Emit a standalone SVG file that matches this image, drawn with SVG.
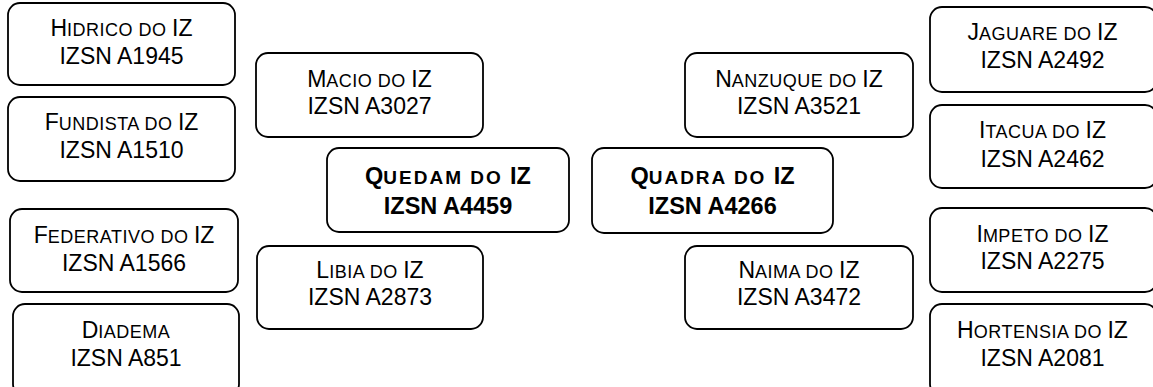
<svg xmlns="http://www.w3.org/2000/svg" width="1153" height="387" viewBox="0 0 1153 387">
<style>
.box{fill:#fff;stroke:#000;stroke-width:1.8}
.t{font-family:"Liberation Sans",Arial,sans-serif;font-size:23px;fill:#000;text-anchor:middle}
.b{font-weight:bold;font-size:23.5px}
.sc{font-size:18px;letter-spacing:0.5px}
.b .sc{font-size:19px;letter-spacing:2px}
</style>
<rect width="1153" height="387" fill="#fff"/>
<g id="connectors"></g>
<g id="hidrico"><rect class="box" x="8" y="3" width="227" height="82" rx="12"/><text class="t" x="121.5" y="36">H<tspan class="sc">IDRICO DO </tspan>IZ</text><text class="t" x="121.5" y="64">IZSN A1945</text></g>
<g id="fundista"><rect class="box" x="8" y="97" width="227" height="84" rx="12"/><text class="t" x="121.5" y="130">F<tspan class="sc">UNDISTA DO </tspan>IZ</text><text class="t" x="121.5" y="158">IZSN A1510</text></g>
<g id="federativo"><rect class="box" x="10" y="209" width="228" height="83" rx="12"/><text class="t" x="124" y="243">F<tspan class="sc">EDERATIVO DO </tspan>IZ</text><text class="t" x="124" y="271">IZSN A1566</text></g>
<g id="diadema"><rect class="box" x="13" y="304" width="226" height="92" rx="12"/><text class="t" x="126" y="338">D<tspan class="sc">IADEMA</tspan></text><text class="t" x="126" y="366">IZSN A851</text></g>
<g id="macio"><rect class="box" x="256" y="53" width="227" height="84" rx="12"/><text class="t" x="369.5" y="87">M<tspan class="sc">ACIO DO </tspan>IZ</text><text class="t" x="369.5" y="114">IZSN A3027</text></g>
<g id="quedam"><rect class="box" x="327" y="148" width="242" height="84" rx="12"/><text class="t b" x="448" y="184">Q<tspan class="sc">UEDAM DO </tspan>IZ</text><text class="t b" x="448" y="214">IZSN A4459</text></g>
<g id="libia"><rect class="box" x="257" y="246" width="226" height="83" rx="12"/><text class="t" x="370" y="278">L<tspan class="sc">IBIA DO </tspan>IZ</text><text class="t" x="370" y="305">IZSN A2873</text></g>
<g id="nanzuque"><rect class="box" x="685" y="53" width="228" height="84" rx="12"/><text class="t" x="799" y="87">N<tspan class="sc">ANZUQUE DO </tspan>IZ</text><text class="t" x="799" y="114">IZSN A3521</text></g>
<g id="quadra"><rect class="box" x="592" y="148" width="241" height="85" rx="12"/><text class="t b" x="712.5" y="184">Q<tspan class="sc">UADRA DO </tspan>IZ</text><text class="t b" x="712.5" y="214">IZSN A4266</text></g>
<g id="naima"><rect class="box" x="685" y="246" width="228" height="83" rx="12"/><text class="t" x="799" y="278">N<tspan class="sc">AIMA DO </tspan>IZ</text><text class="t" x="799" y="305">IZSN A3472</text></g>
<g id="jaguare"><rect class="box" x="930" y="7" width="227" height="85" rx="12"/><text class="t" x="1042.5" y="40">J<tspan class="sc">AGUARE DO </tspan>IZ</text><text class="t" x="1042.5" y="68">IZSN A2492</text></g>
<g id="itacua"><rect class="box" x="930" y="105" width="227" height="83" rx="12"/><text class="t" x="1042.5" y="138">I<tspan class="sc">TACUA DO </tspan>IZ</text><text class="t" x="1042.5" y="167">IZSN A2462</text></g>
<g id="impeto"><rect class="box" x="930" y="208" width="227" height="84" rx="12"/><text class="t" x="1042.5" y="242">I<tspan class="sc">MPETO DO </tspan>IZ</text><text class="t" x="1042.5" y="269">IZSN A2275</text></g>
<g id="hortensia"><rect class="box" x="930" y="304" width="227" height="92" rx="12"/><text class="t" x="1042.5" y="338">H<tspan class="sc">ORTENSIA DO </tspan>IZ</text><text class="t" x="1042.5" y="366">IZSN A2081</text></g>
</svg>
